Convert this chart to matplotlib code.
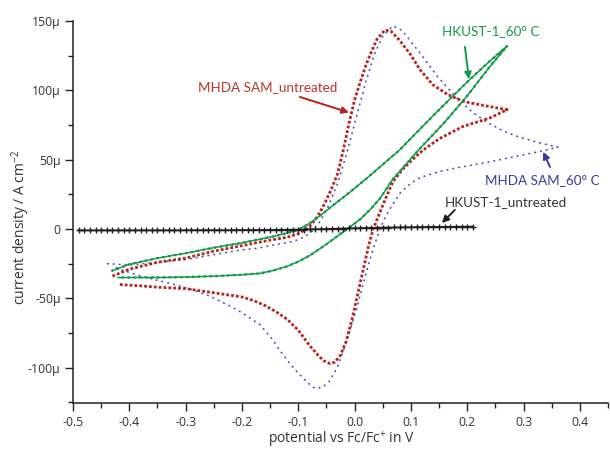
import matplotlib
matplotlib.use("Agg")
import matplotlib.pyplot as plt
from matplotlib.ticker import MultipleLocator, FuncFormatter

# ---------------- data (current density in µA cm^-2) ----------------
# MHDA SAM_untreated (red)
red_x = [-0.43, -0.40, -0.35, -0.30, -0.25, -0.20, -0.15, -0.12, -0.10, -0.09, -0.08, -0.07,
         -0.06, -0.05, -0.04, -0.03, -0.02, -0.01, 0.00, 0.01, 0.02, 0.03, 0.04, 0.054,
         0.065, 0.080, 0.099, 0.116, 0.139, 0.165, 0.193, 0.230, 0.271,
         0.240, 0.193, 0.150, 0.122, 0.100, 0.085, 0.068, 0.055, 0.045, 0.033, 0.025, 0.015,
         0.005, -0.005, -0.015, -0.025, -0.035, -0.044, -0.055, -0.065, -0.080, -0.100, -0.120,
         -0.140, -0.160, -0.180, -0.200, -0.250, -0.300, -0.350, -0.380, -0.420]
red_y = [-34, -29, -24, -21, -16, -12, -8, -6, -3.5, -1, 2, 6.5,
         13, 21, 30, 40, 57, 76, 93, 106, 118, 128, 137, 143.5,
         142.5, 136, 126, 115, 104, 97, 92, 89, 86,
         80, 74, 65, 57, 49, 43, 34, 22, 12, 0, -12, -30,
         -48, -66, -81, -91, -96, -97, -95, -91, -84, -73, -65,
         -59.5, -55, -51.5, -49, -46, -43, -42, -41, -40]

# MHDA SAM_60° C (blue)
blue_x = [-0.44, -0.40, -0.35, -0.30, -0.25, -0.20, -0.173, -0.15, -0.109, -0.09, -0.075, -0.06,
          -0.045, -0.03, -0.015, 0.004, 0.020, 0.035, 0.050, 0.068, 0.085, 0.100, 0.116, 0.147,
          0.180, 0.210, 0.235, 0.265, 0.294, 0.330, 0.361,
          0.330, 0.294, 0.235, 0.180, 0.147, 0.116, 0.100, 0.081, 0.065, 0.055, 0.045, 0.030,
          0.015, 0.004, -0.008, -0.020, -0.031, -0.045, -0.057, -0.067, -0.075, -0.085, -0.100,
          -0.115, -0.130, -0.147, -0.168, -0.190, -0.210, -0.234, -0.260, -0.290, -0.320, -0.350,
          -0.380, -0.410, -0.430]
blue_y = [-25, -26, -24, -22, -18.5, -15, -14, -12, -9, -6, -1.5, 6,
          18, 33, 53, 82, 106, 126, 139, 146.5, 143, 135, 127, 110,
          95, 84, 77, 70.5, 66, 62, 59,
          56, 53, 48, 44, 41, 37, 33, 26, 16, 9, 0, -18,
          -40, -57, -73, -88, -100, -110, -114, -115, -114, -110, -104,
          -97, -89, -79, -69, -63, -58, -53, -48, -43.5, -40, -37,
          -34, -30, -27]

# HKUST-1_60° C (green)
green_x = [-0.43, -0.40, -0.35, -0.30, -0.25, -0.20, -0.17, -0.14, -0.12, -0.10, -0.08, -0.06,
           -0.04, -0.01, 0.02, 0.05, 0.08, 0.116, 0.150, 0.200, 0.240, 0.271,
           0.240, 0.200, 0.160, 0.116, 0.090, 0.068, 0.045, 0.030, 0.010, -0.013, -0.050,
           -0.079, -0.100, -0.120, -0.145, -0.168, -0.200, -0.250, -0.292, -0.350, -0.420]
green_y = [-30, -25.5, -21, -17.5, -13.5, -10, -7.5, -5, -3, -0.5, 4, 10,
           16.5, 26, 36, 46.5, 57, 72, 86, 106, 121, 132,
           117, 96, 77, 58, 46, 36, 22, 15, 7, 0, -11,
           -19, -23.5, -27, -30, -32, -33, -34, -34.6, -35, -35]

# HKUST-1_untreated (black)
black_x = [-0.49, -0.48, -0.47, -0.46, -0.45, -0.44, -0.43, -0.42, -0.41, -0.40, -0.39, -0.38,
           -0.37, -0.36, -0.35, -0.34, -0.33, -0.32, -0.31, -0.30, -0.29, -0.28, -0.27, -0.26,
           -0.25, -0.24, -0.23, -0.22, -0.21, -0.20, -0.19, -0.18, -0.17, -0.16, -0.15, -0.14,
           -0.13, -0.12, -0.11, -0.10, -0.09, -0.08, -0.07, -0.06, -0.05, -0.04, -0.03, -0.02,
           -0.01, 0.00, 0.01, 0.02, 0.03, 0.04, 0.05, 0.06, 0.07, 0.08, 0.09, 0.10, 0.11, 0.12,
           0.13, 0.14, 0.15, 0.16, 0.17, 0.18, 0.19, 0.20, 0.21]
black_y = [-1.0, -1.0, -1.0, -1.0, -1.0, -1.0, -1.0, -1.0, -1.0, -1.0, -1.0, -1.0,
           -1.0, -1.0, -1.0, -1.0, -1.0, -1.0, -1.0, -0.9, -0.9, -0.9, -0.9, -0.9,
           -0.9, -0.9, -0.9, -0.9, -0.8, -0.8, -0.8, -0.8, -0.8, -0.7, -0.7, -0.7,
           -0.6, -0.6, -0.5, -0.5, -0.4, -0.3, -0.2, -0.1, 0.0, 0.1, 0.2, 0.3,
           0.4, 0.5, 0.6, 0.7, 0.8, 0.9, 1.0, 1.0, 1.1, 1.1, 1.2, 1.2, 1.3, 1.3,
           1.4, 1.4, 1.5, 1.5, 1.5, 1.6, 1.6, 1.7, 1.7]

labels = ["MHDA SAM_untreated", "HKUST-1_60° C", "MHDA SAM_60° C", "HKUST-1_untreated"]

# ---------------- figure ----------------
plt.rcParams['font.family'] = ['Open Sans', 'DejaVu Sans']
fig = plt.figure(figsize=(6.1, 4.5), dpi=100)
ax = fig.add_axes([0.1197, 0.1044, 0.877, 0.849])

RED = '#b5231f'
BLUE = '#4a4ab8'
GREEN = '#129a48'
BLACK = '#1e1e1e'

ax.plot(blue_x, blue_y, color=BLUE, lw=1.1, linestyle=(0, (1.3, 2.6)))
ax.plot(red_x, red_y, color=RED, lw=2.0, linestyle=(0, (1.0, 0.75)))
ax.plot(green_x, green_y, color=GREEN, lw=1.1, solid_joinstyle='round')
ax.plot(green_x, green_y, color=GREEN, lw=2.0, linestyle=(0, (0.01, 2.1)),
        dash_capstyle='round')
ax.plot(black_x, black_y, color=BLACK, lw=1.3, marker='+', ms=4.5, mew=1.0)

ax.set_xlim(-0.5, 0.45)
ax.set_ylim(-125.5, 150)

ax.spines['top'].set_visible(False)
ax.spines['right'].set_visible(False)
for s in ('left', 'bottom'):
    ax.spines[s].set_linewidth(1.1)
    ax.spines[s].set_color('#222222')

ax.xaxis.set_major_locator(MultipleLocator(0.1))
ax.xaxis.set_minor_locator(MultipleLocator(0.05))
ax.yaxis.set_major_locator(MultipleLocator(50))
ax.yaxis.set_minor_locator(MultipleLocator(25))
ax.xaxis.set_major_formatter(FuncFormatter(lambda v, p: f"{v:.1f}"))
ax.yaxis.set_major_formatter(FuncFormatter(lambda v, p: "0" if abs(v) < 1e-9 else f"{v:.0f}µ"))
ax.tick_params(which='major', direction='out', length=6, width=1.0, labelsize=8.8,
               labelcolor='#333333', color='#222222', pad=3)
ax.tick_params(which='minor', direction='out', length=3.5, width=1.0, color='#222222')

fig.text(341 / 610, 1 - 439 / 450, "potential vs Fc/Fc$^{\\mathregular{+}}$ in V",
         fontsize=10, color='#333333', ha='center', va='center')
fig.text(21 / 610, 1 - 228 / 450, "current density / A cm$^{\\mathregular{-2}}$",
         fontsize=10, color='#333333', ha='center', va='center', rotation=90)

afont = ['Lato', 'DejaVu Sans']
afs = 9.7
ax.text(-0.155, 102.5, labels[0], ha='center', va='center', fontsize=afs,
        color='#b8352a', family=afont)
ax.text(0.241, 143, labels[1], ha='center', va='center', fontsize=afs,
        color=GREEN, family=afont)
ax.text(0.333, 35.4, labels[2], ha='center', va='center', fontsize=afs,
        color='#3a3a9c', family=afont)
ax.text(0.269, 19.5, labels[3], ha='center', va='center', fontsize=afs,
        color='#333333', family=afont)

arrows = [((-0.097, 95.2), (-0.010, 84), RED),
          ((0.196, 131.3), (0.203, 108), GREEN),
          ((0.347, 44.7), (0.335, 55.6), '#3a3a9c'),
          ((0.178, 13.7), (0.155, 4.3), BLACK)]
for tail, tip, col in arrows:
    ax.annotate("", xy=tip, xytext=tail,
                arrowprops=dict(arrowstyle='-|>', color=col, lw=1.4, mutation_scale=10,
                                shrinkA=0, shrinkB=0))

fig.savefig("out.png", dpi=100)
